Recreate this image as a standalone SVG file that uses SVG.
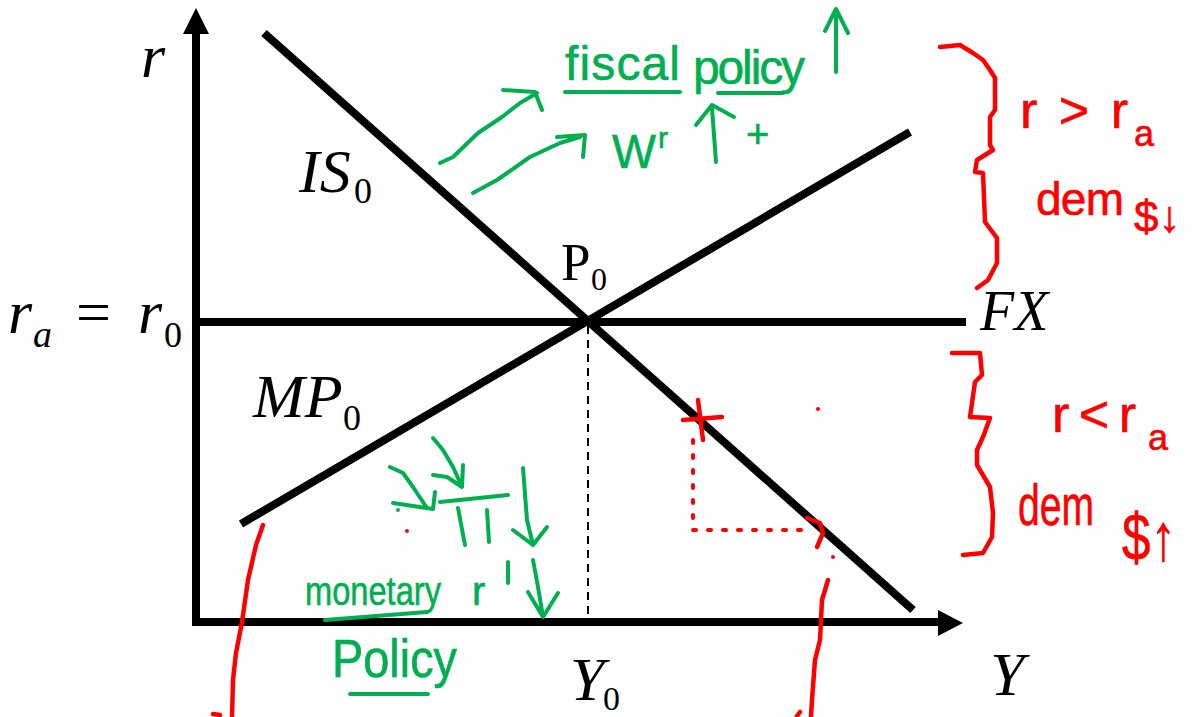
<svg xmlns="http://www.w3.org/2000/svg" width="1192" height="717" viewBox="0 0 1192 717">
<style>
.ax{stroke:#000;stroke-width:8;fill:none}
.ln{stroke:#000;stroke-width:8;fill:none;stroke-linecap:butt}
.m{font-family:"Liberation Serif",serif;font-style:italic;fill:#000}
.u{font-family:"Liberation Serif",serif;fill:#000}
.g{stroke:#00b050;stroke-width:4;fill:none;stroke-linecap:round;stroke-linejoin:round}
.r{stroke:#ff0000;stroke-width:4.5;fill:none;stroke-linecap:round;stroke-linejoin:round}
.rd{stroke:#ff0000;stroke-width:4;fill:none;stroke-linecap:round;stroke-dasharray:3,12}
.gt{font-family:"Liberation Sans",sans-serif;fill:#00b050;stroke:#00b050;stroke-width:0.6}
.rt{font-family:"Liberation Sans",sans-serif;fill:#ff0000;stroke:#ff0000;stroke-width:0.6}
</style>
<rect width="1192" height="717" fill="#fff"/>
<g id="axes">
<path class="ax" d="M196,34 V622 H938"/>
<polygon points="196,8 183,34 209,34" fill="#000"/>
<polygon points="963,623 938,610 938,636" fill="#000"/>
</g>
<g id="connectors">
<line id="IS0" class="ln" x1="264" y1="33" x2="913" y2="610"/>
<line id="MP0" class="ln" x1="241" y1="524" x2="910" y2="132"/>
<line id="FX" class="ln" x1="196" y1="322" x2="966" y2="322"/>
<line id="Y0drop" x1="588" y1="326" x2="588" y2="618" stroke="#000" stroke-width="2" stroke-dasharray="8,6"/>
</g>
<g id="labels">
<text class="m" x="141" y="77" font-size="62">r</text>
<g id="label-IS"><text class="m" x="299" y="192" font-size="62">IS</text><text class="u" x="354" y="203" font-size="36">0</text></g>
<g id="label-ra"><text class="m" x="8" y="333" font-size="62">r</text><text class="m" x="33" y="347" font-size="38">a</text><text class="u" x="76" y="333" font-size="62">=</text><text class="m" x="138" y="333" font-size="62">r</text><text class="u" x="164" y="347" font-size="36">0</text></g>
<g id="label-MP"><text class="m" x="253" y="417" font-size="62">MP</text><text class="u" x="343" y="430" font-size="36">0</text></g>
<g id="label-P0"><text class="u" x="561" y="280" font-size="53">P</text><text class="u" x="591" y="290" font-size="32">0</text></g>
<text class="m" x="980" y="330" font-size="56">FX</text>
<text class="m" x="990" y="695" font-size="62">Y</text>
<g id="label-Y0"><text class="m" x="570" y="700" font-size="62">Y</text><text class="u" x="603" y="710" font-size="34">0</text></g>
</g>
<g id="green-fiscal">
<path class="g" d="M440,163 L453,157 L478,133 L502,117 L520,103 L537,93 M503,90 L535,92 L542,110"/>
<path class="g" d="M473,193 L497,180 L530,157 L560,143 L580,137 M557,137 L585,135 L583,157"/>
<text class="gt" x="565" y="80" font-size="48" textLength="115" lengthAdjust="spacing">fiscal</text>
<text class="gt" x="693" y="84" font-size="48" textLength="112" lengthAdjust="spacing">policy</text>
<path class="g" d="M565,92 L680,92 M718,93 L783,93"/>
<path class="g" d="M836,72 L836,9 M825,31 L836,9 L848,33"/>
<text class="gt" x="612" y="168" font-size="48" textLength="44" lengthAdjust="spacingAndGlyphs">W</text>
<text class="gt" x="658" y="148" font-size="30">r</text>
<path class="g" d="M716,162 L712,108 M696,125 L712,105 L734,117"/>
<text class="gt" x="746" y="148" font-size="40">+</text>
</g>
<g id="green-monetary">
<path class="g" d="M390,467 L403,473 L413,487 L427,508 M393,503 L433,509 L435,492"/>
<path class="g" d="M433,438 L443,450 L453,467 L462,487 M433,475 L447,477 L462,487 L463,465"/>
<path class="g" d="M440,502 L508,495 M458,508 L465,545 M487,510 L489,542"/>
<path class="g" d="M523,468 L527,520 L533,545 M513,530 L533,545 L547,527"/>
<path class="g" d="M533,560 L538,587 L543,617 M528,592 L543,617 L558,593"/>
<text class="gt" x="305" y="605" font-size="40" textLength="136" lengthAdjust="spacingAndGlyphs">monetary</text>
<path class="g" d="M325,620 L427,612"/>
<text class="gt" x="472" y="605" font-size="40">r</text>
<path class="g" d="M508,562 L508,583"/>
<text class="gt" x="332" y="677" font-size="54" textLength="125" lengthAdjust="spacingAndGlyphs">Policy</text>
<path class="g" d="M350,694 L428,694"/>
<circle cx="398" cy="510" r="2" fill="#00b050"/>
</g>
<g id="red-upper">
<path class="r" d="M940,47 L960,45 L973,53 L983,60 L990,70 L995,78 L995,110 L990,117 L990,145 L993,150 L977,160 L975,172 L983,173 L985,222 L997,238 L997,263 L988,280 L977,288"/>
<text class="rt" x="1020" y="128" font-size="52" textLength="108" lengthAdjust="spacing">r&gt;r</text>
<text class="rt" x="1134" y="146" font-size="36">a</text>
<text class="rt" x="1036" y="215" font-size="46" textLength="88" lengthAdjust="spacing">dem</text>
<text class="rt" x="1134" y="232" font-size="44">$↓</text>
</g>
<g id="red-lower">
<path class="r" d="M952,353 L980,353 L982,375 L975,382 L970,417 L990,418 L983,437 L977,450 L977,465 L990,487 L993,513 L992,537 L983,553 L963,555"/>
<text class="rt" x="1052" y="432" font-size="52" textLength="84" lengthAdjust="spacing">r&lt;r</text>
<text class="rt" x="1148" y="450" font-size="36">a</text>
<text class="rt" x="1018" y="525" font-size="58" textLength="76" lengthAdjust="spacingAndGlyphs">dem</text>
<text class="rt" x="1122" y="560" font-size="66" textLength="54" lengthAdjust="spacingAndGlyphs">$↑</text>
</g>
<g id="red-marks">
<path class="r" d="M263,525 L256,545 L248,580 L242,622 L236,653 L233,680 L232,717 M213,714 L220,715"/>
<path class="r" d="M828,580 L822,600 L820,640 L815,660 L812,700 L811,717 M797,716 L800,712"/>
<path class="r" d="M683,420 L722,417 M698,400 L703,440"/>
<path class="rd" d="M693,440 L693,530 L806,530"/>
<path class="r" d="M807,518 L820,523 L823,533 L817,547"/>
<circle cx="818" cy="409" r="2" fill="#ff0000"/>
<circle cx="833" cy="557" r="2" fill="#ff0000"/>
<circle cx="407" cy="531" r="2" fill="#ff0000"/>
</g>
</svg>
